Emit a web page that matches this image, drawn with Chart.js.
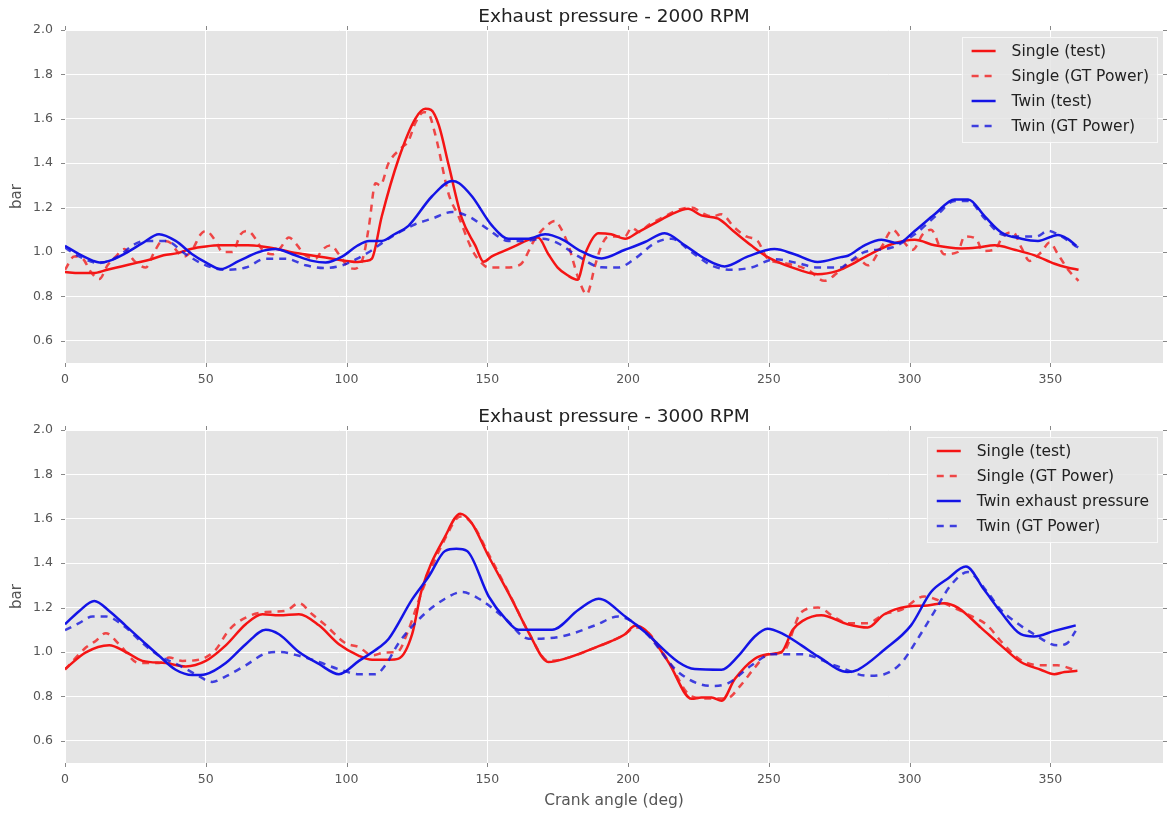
<!DOCTYPE html>
<html>
<head>
<meta charset="utf-8">
<title>Exhaust pressure</title>
<script src="https://cdn.jsdelivr.net/npm/chart.js@4.4.1/dist/chart.umd.min.js"></script>
<style>
  body { margin: 0; background: #ffffff; }
  #wrap { position: relative; width: 1169px; height: 814px; }
  canvas { display: block; }
</style>
</head>
<body>
<div id="wrap">
  <canvas id="chart2000" width="1169" height="400"></canvas>
  <canvas id="chart3000" width="1169" height="414"></canvas>
</div>
<script>
// ---- 2000 RPM ----
const singleTest2000Angle = [0, 5, 10, 15, 20, 25, 30, 35, 40, 45, 50, 55, 60, 65, 70, 75, 80, 85, 90, 95, 100, 104, 107, 109, 112.5, 118.5, 124.4, 128, 130, 132.8, 136.3, 141, 145.7, 148.7, 151.6, 156, 160, 165.8, 168, 171.7, 175, 178.5, 182, 185, 189.5, 194, 199, 203.6, 209.5, 215.4, 221.3, 226, 232, 237.8, 243.7, 249.6, 257.9, 267.3, 274.4, 278, 285.2, 293.6, 301.8, 308.9, 318.4, 324, 330.2, 337.3, 344.4, 351.5, 356, 360];
const singleTest2000 = [0.91, 0.905, 0.905, 0.92, 0.935, 0.95, 0.965, 0.985, 0.995, 1.015, 1.025, 1.03, 1.03, 1.03, 1.025, 1.015, 1.0, 0.99, 0.98, 0.97, 0.96, 0.955, 0.96, 0.97, 1.16, 1.42, 1.6, 1.645, 1.64, 1.57, 1.39, 1.15, 1.03, 0.956, 0.98, 1.005, 1.028, 1.06, 1.065, 0.99, 0.93, 0.895, 0.875, 1.0, 1.085, 1.08, 1.06, 1.09, 1.13, 1.17, 1.195, 1.165, 1.15, 1.09, 1.03, 0.977, 0.932, 0.9, 0.915, 0.935, 0.985, 1.035, 1.055, 1.03, 1.016, 1.02, 1.03, 1.01, 0.985, 0.947, 0.93, 0.92];

const singleGT2000Angle = [0, 3.3, 6.3, 9.2, 12.2, 15.1, 18.1, 21, 24.6, 28.7, 31.7, 34.6, 37.6, 40, 42.3, 45.2, 48.2, 50, 53.5, 55.9, 59.5, 62.4, 64.8, 67.7, 70.1, 73.6, 76.6, 79.5, 82.5, 84.9, 89, 91.4, 94.4, 97.3, 100.9, 103, 106, 108, 110.3, 112, 114.9, 119.6, 122, 124.4, 127.4, 129, 131.5, 136.3, 139.8, 144.6, 148, 150.5, 156.4, 160, 162.3, 167, 171.7, 174, 176, 178.8, 182.4, 185.3, 188.3, 190.6, 193, 198.9, 201.3, 204, 207.1, 213, 217.7, 222.5, 227.2, 230, 233.1, 237.8, 242, 246, 249.6, 255.5, 263.8, 269.7, 275.6, 281.5, 285.2, 289.9, 294, 297.6, 301.1, 304.7, 307.6, 312.3, 317.1, 319.5, 323.6, 326, 330.2, 333.1, 336.7, 339.7, 342.6, 346.8, 349.7, 352.7, 356.3, 360];
const singleGT2000 = [0.92, 0.98, 0.97, 0.91, 0.878, 0.94, 0.98, 1.013, 0.96, 0.93, 1.0, 1.05, 1.04, 1.0, 0.98, 1.01, 1.08, 1.095, 1.05, 1.0, 1.0, 1.08, 1.095, 1.06, 1.01, 0.99, 1.02, 1.065, 1.03, 0.99, 0.97, 1.01, 1.03, 0.99, 0.93, 0.925, 0.98, 1.12, 1.31, 1.3, 1.4, 1.47, 1.5, 1.58, 1.63, 1.625, 1.53, 1.26, 1.16, 1.01, 0.95, 0.93, 0.93, 0.935, 0.95, 1.06, 1.125, 1.14, 1.11, 1.03, 0.88, 0.81, 0.94, 1.03, 1.07, 1.07, 1.11, 1.09, 1.12, 1.16, 1.19, 1.2, 1.17, 1.16, 1.17, 1.11, 1.07, 1.05, 0.97, 0.95, 0.92, 0.87, 0.92, 0.97, 0.94, 1.02, 1.1, 1.05, 1.01, 1.08, 1.1, 0.99, 1.0, 1.07, 1.06, 1.005, 1.01, 1.07, 1.09, 1.02, 0.96, 1.0, 1.043, 0.99, 0.92, 0.87];

const twinTest2000Angle = [0, 5, 10, 12.2, 15.7, 21.6, 27.5, 33.4, 39.3, 45.2, 50, 55.3, 61.8, 68.9, 74.8, 80.7, 87.8, 92.6, 98.5, 103.8, 108, 112.5, 117, 122, 130.3, 137.5, 140, 144.6, 151.6, 157.5, 164.6, 170.5, 173, 177.6, 182.4, 190.6, 198.9, 206, 213, 220.2, 227.2, 234.3, 242.6, 252, 259.1, 267.3, 275.6, 278.1, 284, 290, 295.9, 301.8, 308.9, 316, 320.8, 326.7, 332.6, 339.7, 345.6, 352.7, 356, 359.2];
const twinTest2000 = [1.028, 0.99, 0.96, 0.953, 0.96, 0.995, 1.04, 1.08, 1.05, 0.99, 0.953, 0.923, 0.96, 1.0, 1.013, 0.99, 0.96, 0.953, 0.98, 1.028, 1.05, 1.05, 1.08, 1.118, 1.25, 1.32, 1.31, 1.25, 1.12, 1.06, 1.06, 1.08, 1.075, 1.05, 1.01, 0.971, 1.01, 1.045, 1.085, 1.03, 0.97, 0.935, 0.98, 1.013, 0.99, 0.955, 0.977, 0.983, 1.03, 1.055, 1.04, 1.095, 1.17, 1.237, 1.237, 1.16, 1.088, 1.06, 1.05, 1.077, 1.06, 1.028];

const twinGT2000Angle = [0, 5, 12.2, 15.7, 20, 24, 28.7, 35.8, 42.9, 50, 57.1, 64.2, 71.3, 78.4, 85.5, 92.6, 98.5, 103.8, 108, 114.9, 124.4, 130.3, 137.5, 143.4, 150.5, 157.5, 163.4, 169.3, 175, 182.4, 190.6, 196.5, 202.4, 209.5, 215.4, 222.5, 229.6, 236.7, 243.7, 252, 260.3, 267.3, 275.6, 278, 284, 293.6, 301.8, 310, 316, 320.8, 326.7, 332.6, 339.7, 345, 349.2, 353.9, 358.6, 360];
const twinGT2000 = [1.02, 0.98, 0.95, 0.96, 0.99, 1.03, 1.05, 1.05, 0.99, 0.94, 0.92, 0.93, 0.97, 0.97, 0.94, 0.928, 0.94, 0.97, 1.0, 1.06, 1.125, 1.15, 1.18, 1.16, 1.1, 1.05, 1.05, 1.06, 1.04, 0.98, 0.931, 0.93, 0.97, 1.04, 1.06, 1.0, 0.94, 0.92, 0.93, 0.967, 0.95, 0.93, 0.93, 0.95, 1.0, 1.02, 1.08, 1.17, 1.23, 1.23, 1.15, 1.08, 1.07, 1.07, 1.095, 1.07, 1.03, 1.02];

// ---- 3000 RPM ----
const singleTest3000Angle = [0, 7.4, 15.7, 21.6, 27.5, 35.8, 42.9, 50, 57.1, 64.2, 70.1, 76, 83.1, 90.2, 97.3, 104.4, 109.1, 115, 118.5, 123.3, 126.7, 135, 140.4, 144.5, 150.5, 158.7, 164.6, 171.7, 177.6, 188.3, 194.2, 198.9, 202.5, 206, 214.3, 222.6, 226, 229.7, 233.2, 237.9, 245, 249.7, 254.5, 258.5, 262, 268.6, 278, 285.1, 291, 299.3, 306.4, 312.3, 317.1, 325.3, 332.4, 339.5, 346.6, 351.4, 355, 359.6];
const singleTest3000 = [0.923, 0.998, 1.03, 1.0, 0.96, 0.95, 0.935, 0.96, 1.03, 1.125, 1.17, 1.165, 1.17, 1.12, 1.035, 0.983, 0.965, 0.965, 0.97, 1.08, 1.28, 1.52, 1.623, 1.58, 1.43, 1.237, 1.09, 0.955, 0.97, 1.02, 1.05, 1.08, 1.118, 1.1, 0.955, 0.789, 0.795, 0.795, 0.78, 0.878, 0.97, 0.99, 1.0, 1.1, 1.14, 1.165, 1.125, 1.11, 1.17, 1.205, 1.21, 1.22, 1.2, 1.11, 1.03, 0.955, 0.92, 0.9, 0.91, 0.915];

const singleGT3000Angle = [0, 7.4, 10.9, 14.5, 19.2, 26.3, 33.4, 37, 41.7, 48.8, 53.5, 58.3, 64.2, 71.3, 78.4, 83.1, 87.8, 92.6, 99.6, 104.4, 109.1, 113.8, 118, 122, 126.7, 135, 140.4, 144.5, 150.5, 158.7, 164.6, 171.7, 177.6, 188.3, 194.2, 198.9, 202.5, 206, 214.3, 222.6, 229.7, 235, 240, 245, 249.7, 255, 261.6, 267.5, 273, 278, 285, 291, 297, 305.2, 308.7, 314, 320.6, 327.6, 333, 340, 347.8, 352.5, 358.5];
const singleGT3000 = [0.92, 1.02, 1.05, 1.085, 1.035, 0.95, 0.95, 0.975, 0.96, 0.97, 1.01, 1.1, 1.155, 1.18, 1.185, 1.22, 1.17, 1.12, 1.04, 1.022, 0.985, 0.998, 1.0, 1.1, 1.27, 1.51, 1.61, 1.58, 1.44, 1.24, 1.09, 0.96, 0.97, 1.02, 1.05, 1.08, 1.11, 1.1, 0.96, 0.8, 0.79, 0.79, 0.85, 0.93, 0.99, 1.0, 1.18, 1.2, 1.16, 1.13, 1.13, 1.17, 1.19, 1.25, 1.24, 1.21, 1.17, 1.12, 1.04, 0.96, 0.94, 0.94, 0.92];

const twinTest3000Angle = [0, 5.1, 10.4, 15.7, 21.6, 27.5, 33.4, 39.3, 45.2, 50, 57.1, 64.2, 71.3, 76, 83.1, 90.2, 97.3, 104.4, 111.5, 115, 123.3, 129.2, 135, 139, 142.8, 150.5, 156.4, 161.1, 173, 182.4, 189.5, 199, 206, 217.8, 223.7, 233.2, 239, 245, 249.5, 254.5, 261.6, 267.5, 278, 281.6, 291, 300.5, 307.6, 313.5, 320, 326.5, 332.4, 339.5, 344.2, 351.4, 359];
const twinTest3000 = [1.125, 1.185, 1.23, 1.185, 1.118, 1.05, 0.983, 0.92, 0.896, 0.9, 0.95, 1.035, 1.1, 1.08, 1.0, 0.946, 0.9, 0.96, 1.02, 1.06, 1.237, 1.34, 1.455, 1.465, 1.455, 1.25, 1.15, 1.1, 1.1, 1.19, 1.24, 1.16, 1.09, 0.955, 0.923, 0.92, 0.98, 1.07, 1.105, 1.085, 1.03, 0.98, 0.91, 0.92, 1.01, 1.12, 1.27, 1.33, 1.385, 1.28, 1.18, 1.08, 1.07, 1.095, 1.12];

const twinGT3000Angle = [0, 5, 9.8, 14.5, 21.6, 27.5, 33.4, 40.5, 46.4, 52.3, 57.1, 64.2, 71.3, 76, 83.1, 90.2, 98.5, 104.4, 110.3, 113.8, 118.5, 126.7, 135, 141, 147, 156.4, 164.6, 176.4, 188.3, 196.5, 206, 217.8, 229.7, 235.6, 243.9, 251, 261.6, 273.4, 285.1, 291, 297, 302.9, 308.7, 314.6, 320.6, 327.6, 332.4, 337.1, 344.2, 352.5, 356, 359];
const twinGT3000 = [1.098, 1.13, 1.16, 1.16, 1.11, 1.04, 0.983, 0.94, 0.9, 0.865, 0.89, 0.94, 0.994, 1.0, 0.983, 0.955, 0.917, 0.9, 0.9, 0.94, 1.04, 1.16, 1.24, 1.27, 1.24, 1.15, 1.06, 1.07, 1.12, 1.16, 1.09, 0.91, 0.847, 0.86, 0.94, 0.99, 0.99, 0.94, 0.893, 0.9, 0.95, 1.06, 1.18, 1.3, 1.36, 1.27, 1.19, 1.14, 1.08, 1.03, 1.04, 1.095];

const xTickStep = 50;
const yTickStep = 0.2;

const RED = '#f51414';
const RED_DASH = 'rgba(240, 30, 30, 0.8)';
const BLUE = '#1414e6';
const BLUE_DASH = 'rgba(20, 20, 220, 0.8)';
const FONT = '"DejaVu Sans", "Liberation Sans", sans-serif';

function toPoints(angles, values) {
    return angles.map((a, i) => ({ x: a, y: values[i] }));
}

function lineSet(label, angles, values, color, dashed, order) {
    return {
        label,
        data: toPoints(angles, values),
        borderColor: color,
        borderWidth: 2.5,
        borderDash: dashed ? [7, 6] : [],
        pointRadius: 0,
        fill: false,
        cubicInterpolationMode: 'monotone',
        order
    };
}

// grey panel behind the lines
const panelBackground = {
    id: 'panelBackground',
    beforeDraw(chart) {
        const { ctx, chartArea } = chart;
        ctx.save();
        ctx.fillStyle = '#e5e5e5';
        ctx.fillRect(chartArea.left, chartArea.top, chartArea.width, chartArea.height);
        ctx.restore();
    }
};

// small outward tick marks on all four sides
const outerTicks = {
    id: 'outerTicks',
    afterDraw(chart) {
        const { ctx, chartArea, scales } = chart;
        ctx.save();
        ctx.strokeStyle = '#888888';
        ctx.lineWidth = 1;
        ctx.beginPath();
        scales.y.ticks.forEach(t => {
            const py = Math.round(scales.y.getPixelForValue(t.value)) + 0.5;
            ctx.moveTo(chartArea.left - 4, py); ctx.lineTo(chartArea.left, py);
            ctx.moveTo(chartArea.right, py); ctx.lineTo(chartArea.right + 4, py);
        });
        scales.x.ticks.forEach(t => {
            const px = Math.round(scales.x.getPixelForValue(t.value)) + 0.5;
            ctx.moveTo(px, chartArea.top - 4); ctx.lineTo(px, chartArea.top);
            ctx.moveTo(px, chartArea.bottom); ctx.lineTo(px, chartArea.bottom + 4);
        });
        ctx.stroke();
        ctx.restore();
    }
};

// title centred over the plot panel
const panelTitle = {
    id: 'panelTitle',
    afterDraw(chart, args, opts) {
        const { ctx, chartArea } = chart;
        ctx.save();
        ctx.font = '18.5px ' + FONT;
        ctx.fillStyle = '#222222';
        ctx.textAlign = 'center';
        ctx.textBaseline = 'middle';
        ctx.fillText(opts.text, (chartArea.left + chartArea.right) / 2, 17);
        ctx.restore();
    }
};

// legend box inside the top-right corner of the panel
const insideLegend = {
    id: 'insideLegend',
    afterDatasetsDraw(chart) {
        const { ctx, chartArea } = chart;
        const sets = chart.data.datasets;
        ctx.save();
        ctx.font = '15.5px ' + FONT;
        const textW = Math.max(...sets.map(d => ctx.measureText(d.label).width));
        const w = 10 + 24 + 16 + textW + 8;
        const h = 105;
        const right = chartArea.right - 6;
        const left = right - w;
        const top = chartArea.top + 7;
        ctx.fillStyle = 'rgba(229, 229, 229, 0.85)';
        ctx.fillRect(left, top, w, h);
        ctx.strokeStyle = 'rgba(250, 250, 250, 0.9)';
        ctx.lineWidth = 1;
        ctx.strokeRect(Math.round(left) + 0.5, Math.round(top) + 0.5, Math.round(w), h);
        sets.forEach((d, i) => {
            const y = top + 14 + i * 25;
            ctx.beginPath();
            ctx.strokeStyle = d.borderColor;
            ctx.lineWidth = d.borderWidth;
            ctx.setLineDash(d.borderDash);
            ctx.moveTo(left + 10, y);
            ctx.lineTo(left + 34, y);
            ctx.stroke();
            ctx.setLineDash([]);
            ctx.fillStyle = '#222222';
            ctx.textAlign = 'left';
            ctx.textBaseline = 'middle';
            ctx.fillText(d.label, left + 50, y + 1);
        });
        ctx.restore();
    }
};

function makeChart(canvasId, title, datasets, xHeight, xTitle) {
    return new Chart(document.getElementById(canvasId), {
        type: 'line',
        data: { datasets },
        options: {
            responsive: false,
            animation: false,
            events: [],
            layout: { padding: { top: 30, right: 6, left: 0, bottom: 0 } },
            plugins: {
                legend: { display: false },
                tooltip: { enabled: false },
                panelTitle: { text: title }
            },
            scales: {
                x: {
                    type: 'linear',
                    min: 0,
                    max: 390,
                    afterFit(scale) { scale.height = xHeight; },
                    border: { display: false },
                    grid: { color: '#ffffff', lineWidth: 1, drawTicks: false },
                    ticks: {
                        stepSize: xTickStep,
                        includeBounds: false,
                        padding: 9,
                        color: '#555555',
                        font: { family: FONT, size: 12.5 }
                    },
                    title: {
                        display: !!xTitle,
                        text: xTitle || '',
                        color: '#555555',
                        font: { family: FONT, size: 15.5 },
                        padding: { top: 0, bottom: 4 }
                    }
                },
                y: {
                    min: 0.5,
                    max: 2.0,
                    afterFit(scale) { scale.width = 65; },
                    border: { display: false },
                    grid: { color: '#ffffff', lineWidth: 1, drawTicks: false },
                    ticks: {
                        stepSize: yTickStep,
                        includeBounds: false,
                        padding: 12,
                        color: '#555555',
                        font: { family: FONT, size: 12.5 },
                        callback: v => v.toFixed(1)
                    },
                    title: {
                        display: true,
                        text: 'bar',
                        color: '#555555',
                        font: { family: FONT, size: 15 },
                        padding: { top: 8, bottom: 0 }
                    }
                }
            }
        },
        plugins: [panelBackground, outerTicks, panelTitle, insideLegend]
    });
}

makeChart('chart2000', 'Exhaust pressure - 2000 RPM', [
    lineSet('Single (test)', singleTest2000Angle, singleTest2000, RED, false, 3),
    lineSet('Single (GT Power)', singleGT2000Angle, singleGT2000, RED_DASH, true, 2),
    lineSet('Twin (test)', twinTest2000Angle, twinTest2000, BLUE, false, 1),
    lineSet('Twin (GT Power)', twinGT2000Angle, twinGT2000, BLUE_DASH, true, 0)
], 37, null);

makeChart('chart3000', 'Exhaust pressure - 3000 RPM', [
    lineSet('Single (test)', singleTest3000Angle, singleTest3000, RED, false, 3),
    lineSet('Single (GT Power)', singleGT3000Angle, singleGT3000, RED_DASH, true, 2),
    lineSet('Twin exhaust pressure', twinTest3000Angle, twinTest3000, BLUE, false, 1),
    lineSet('Twin (GT Power)', twinGT3000Angle, twinGT3000, BLUE_DASH, true, 0)
], 51, 'Crank angle (deg)');
</script>
</body>
</html>
